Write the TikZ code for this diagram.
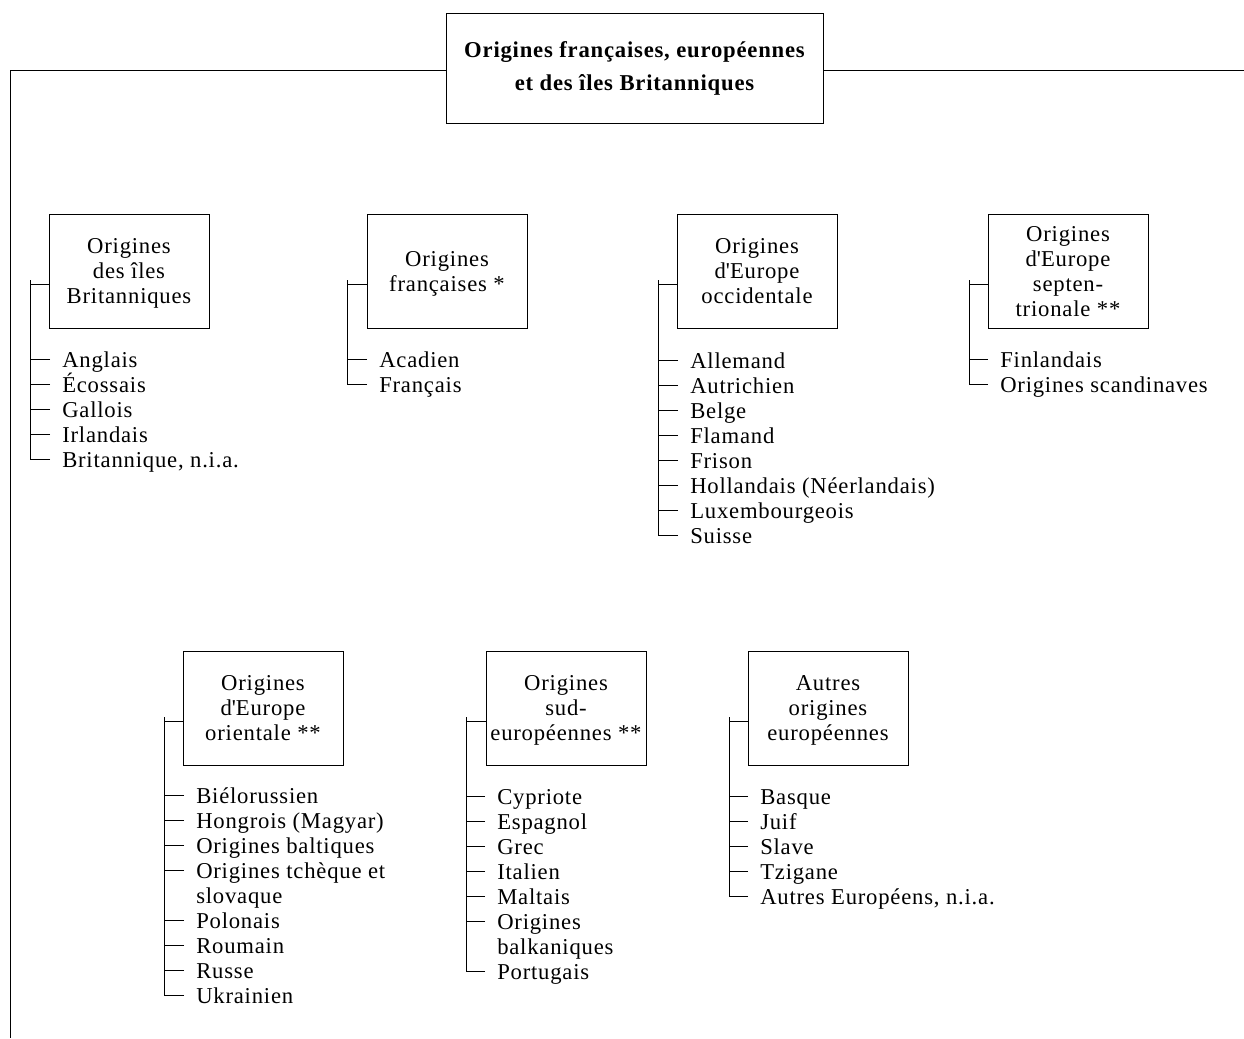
\documentclass[tikz,border=0pt]{standalone}
\usepackage{fontspec}
\setmainfont{Liberation Serif}[LetterSpace=3.5]
\newcommand{\itemfont}{\fontsize{17}{18.75}\selectfont}
\newcommand{\apos}{\textquotesingle}
\begin{document}
\begin{tikzpicture}[x=0.75pt,y=0.75pt,yscale=-1,xscale=1,
	catbox/.style={draw, line width=0.6pt, minimum width=120pt, minimum height=85.5pt, align=center, inner sep=0pt,
		text depth=0pt, font=\itemfont},
	origin/.style={anchor=west, inner xsep=9pt, inner ysep=0pt, text height=13pt, text depth=1pt, font=\itemfont},
	tick/.style={line width=0.6pt}]
	\useasboundingbox (0,0) rectangle (1244,1038);
	
	% Title box
	\node [draw, line width=0.6pt, minimum width=282.75pt, minimum height=82.5pt, align=center, inner sep=0pt,
		font=\fontsize{17}{24.75}\selectfont\bfseries] (titre) at (634.5,68) {Origines françaises, européennes\\et des îles Britanniques};
	\coordinate (bord) at (1244,70);
	\coordinate (coin) at (10,70);
	\coordinate (bas) at (10,1038);
	\draw [tick] (titre.west |- coin) -- (coin) -- (bas);
	\draw [tick] (titre.east |- bord) -- (bord);
	
	%% Row 1
	% Origines des îles Britanniques
	\node [catbox] (brit) at (129,271) {Origines\\des îles\\Britanniques};
	\coordinate (bt) at (30,280);
	\coordinate (bj) at (30,284);
	\node [origin] (angl) at (50,359) {Anglais};
	\node [origin] (ecos) at (50,384) {Écossais};
	\node [origin] (gall) at (50,409) {Gallois};
	\node [origin] (irla) at (50,434) {Irlandais};
	\node [origin] (bnia) at (50,459) {Britannique, n.i.a.};
	\draw [tick] (bj) -- (bj -| brit.west);
	\draw [tick] (bt) -- (bt |- bnia.west);
	\foreach \n in {angl,ecos,gall,irla,bnia}
		\draw [tick] (\n.west) -- (bt |- \n.west);
	
	% Origines françaises
	\node [catbox] (fran) at (447,271) {Origines\\françaises *};
	\coordinate (ft) at (347,280);
	\coordinate (fj) at (347,284);
	\node [origin] (acad) at (367,359) {Acadien};
	\node [origin] (fais) at (367,384) {Français};
	\draw [tick] (fj) -- (fj -| fran.west);
	\draw [tick] (ft) -- (ft |- fais.west);
	\foreach \n in {acad,fais}
		\draw [tick] (\n.west) -- (ft |- \n.west);
	
	% Origines d'Europe occidentale
	\node [catbox] (occi) at (757,271) {Origines\\d\apos Europe\\occidentale};
	\coordinate (ot) at (658,280);
	\coordinate (oj) at (658,284);
	\node [origin] (alle) at (678,360) {Allemand};
	\node [origin] (autr) at (678,385) {Autrichien};
	\node [origin] (belg) at (678,410) {Belge};
	\node [origin] (flam) at (678,435) {Flamand};
	\node [origin] (fris) at (678,460) {Frison};
	\node [origin] (holl) at (678,485) {Hollandais (Néerlandais)};
	\node [origin] (luxe) at (678,510) {Luxembourgeois};
	\node [origin] (suis) at (678,535) {Suisse};
	\draw [tick] (oj) -- (oj -| occi.west);
	\draw [tick] (ot) -- (ot |- suis.west);
	\foreach \n in {alle,autr,belg,flam,fris,holl,luxe,suis}
		\draw [tick] (\n.west) -- (ot |- \n.west);
	
	% Origines d'Europe septentrionale
	\node [catbox] (sept) at (1068,271) {Origines\\d\apos Europe\\septen-\\trionale **};
	\coordinate (st) at (969,280);
	\coordinate (sj) at (969,284);
	\node [origin] (finl) at (988,359) {Finlandais};
	\node [origin] (scan) at (988,384) {Origines scandinaves};
	\draw [tick] (sj) -- (sj -| sept.west);
	\draw [tick] (st) -- (st |- scan.west);
	\foreach \n in {finl,scan}
		\draw [tick] (\n.west) -- (st |- \n.west);
	
	%% Row 2
	% Origines d'Europe orientale
	\node [catbox] (orie) at (263,708) {Origines\\d\apos Europe\\orientale **};
	\coordinate (et) at (164,717);
	\coordinate (ej) at (164,721);
	\node [origin] (biel) at (184,795) {Biélorussien};
	\node [origin] (hong) at (184,820) {Hongrois (Magyar)};
	\node [origin] (balt) at (184,845) {Origines baltiques};
	\node [origin] (tche) at (184,870) {Origines tchèque et};
	\node [origin] (slov) at (184,895) {slovaque};
	\node [origin] (polo) at (184,920) {Polonais};
	\node [origin] (roum) at (184,945) {Roumain};
	\node [origin] (russ) at (184,970) {Russe};
	\node [origin] (ukra) at (184,995) {Ukrainien};
	\draw [tick] (ej) -- (ej -| orie.west);
	\draw [tick] (et) -- (et |- ukra.west);
	\foreach \n in {biel,hong,balt,tche,polo,roum,russ,ukra}
		\draw [tick] (\n.west) -- (et |- \n.west);
	
	% Origines sud-européennes
	\node [catbox] (sude) at (566,708) {Origines\\sud-\\européennes **};
	\coordinate (ut) at (466,717);
	\coordinate (uj) at (466,721);
	\node [origin] (cypr) at (485,796) {Cypriote};
	\node [origin] (espa) at (485,821) {Espagnol};
	\node [origin] (grec) at (485,846) {Grec};
	\node [origin] (ital) at (485,871) {Italien};
	\node [origin] (malt) at (485,896) {Maltais};
	\node [origin] (balk) at (485,921) {Origines};
	\node [origin] (balk2) at (485,946) {balkaniques};
	\node [origin] (port) at (485,971) {Portugais};
	\draw [tick] (uj) -- (uj -| sude.west);
	\draw [tick] (ut) -- (ut |- port.west);
	\foreach \n in {cypr,espa,grec,ital,malt,balk,port}
		\draw [tick] (\n.west) -- (ut |- \n.west);
	
	% Autres origines européennes
	\node [catbox] (autre) at (828,708) {Autres\\origines\\européennes};
	\coordinate (at) at (729,717);
	\coordinate (aj) at (729,721);
	\node [origin] (basq) at (748,796) {Basque};
	\node [origin] (juif) at (748,821) {Juif};
	\node [origin] (slav) at (748,846) {Slave};
	\node [origin] (tzig) at (748,871) {Tzigane};
	\node [origin] (aeur) at (748,896) {Autres Européens, n.i.a.};
	\draw [tick] (aj) -- (aj -| autre.west);
	\draw [tick] (at) -- (at |- aeur.west);
	\foreach \n in {basq,juif,slav,tzig,aeur}
		\draw [tick] (\n.west) -- (at |- \n.west);
\end{tikzpicture}
\end{document}
